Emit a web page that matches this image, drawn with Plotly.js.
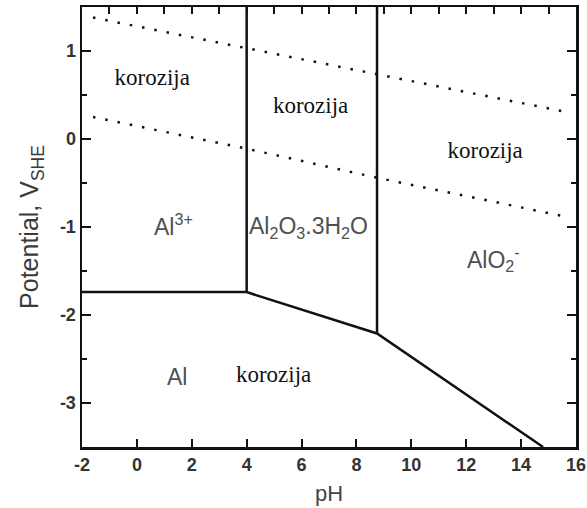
<!DOCTYPE html>
<html>
<head>
<meta charset="utf-8">
<script src="https://cdn.plot.ly/plotly-3.0.1.min.js"></script>
<style>
  html, body { margin: 0; padding: 0; background: #fff; }
  #chart { width: 587px; height: 508px; }
</style>
</head>
<body>
<div id="chart"></div>
<script>
'use strict';

// phase boundaries (solid)
const lowerBoundaryPH = [-2, 4, 8.75, 14.8];
const lowerBoundaryE = [-1.74, -1.74, -2.21, -3.5];
const al3OxidePH = [4, 4];
const al3OxideE = [-1.74, 1.5];
const oxideAlo2PH = [8.75, 8.75];
const oxideAlo2E = [-2.21, 1.5];

// water stability lines (dotted)
const oxygenPH = [-1.6, 4, 8.75, 15.6];
const oxygenE = [1.38, 1.03, 0.74, 0.31];
const hydrogenPH = [-1.6, 4, 8.75, 15.6];
const hydrogenE = [0.25, -0.11, -0.44, -0.88];

// tick labels (plain hyphen, like the original)
const phTicks = [-2, 0, 2, 4, 6, 8, 10, 12, 14, 16];
const phTickText = ['-2', '0', '2', '4', '6', '8', '10', '12', '14', '16'];
const eTicks = [-3, -2, -1, 0, 1];
const eTickText = ['-3', '-2', '-1', '0', '1'];

// region labels
const speciesText = ['Al<sup>3+</sup>', 'Al<sub>2</sub>O<sub>3</sub>.3H<sub>2</sub>O', 'AlO<sub>2</sub><sup>-</sup>', 'Al'];
const speciesX = [1.35, 6.25, 13.0, 1.47];
const speciesY = [-0.98, -1.0, -1.36, -2.71];

const corrosionText = ['korozija', 'korozija', 'korozija', 'korozija'];
const corrosionX = [0.56, 6.33, 12.69, 4.98];
const corrosionY = [0.68, 0.36, -0.15, -2.70];

const solid = {color: '#111', width: 2.5};
const dotted = {color: '#111', width: 2.5, dash: '2.5px,10px'};

function line(x, y, style) {
  return {x, y, type: 'scatter', mode: 'lines', line: style, hoverinfo: 'skip', showlegend: false};
}

const sans = 'Liberation Sans';
const serif = 'Liberation Serif';

const data = [
  line(lowerBoundaryPH, lowerBoundaryE, solid),
  line(al3OxidePH, al3OxideE, solid),
  line(oxideAlo2PH, oxideAlo2E, solid),
  line(oxygenPH, oxygenE, dotted),
  line(hydrogenPH, hydrogenE, dotted),
  {
    x: corrosionX, y: corrosionY, text: corrosionText,
    type: 'scatter', mode: 'text', textposition: 'middle center',
    textfont: {family: serif, size: 23, color: '#111', weight: 'normal'},
    hoverinfo: 'skip', showlegend: false
  },
  // invisible trace so the top axis gets drawn
  {x: [-2], y: [-3.5], xaxis: 'x2', type: 'scatter', mode: 'markers',
    marker: {opacity: 0}, hoverinfo: 'skip', showlegend: false}
];

const annotations = speciesText.map((t, i) => ({
  x: speciesX[i], y: speciesY[i], xref: 'x', yref: 'y', text: t, showarrow: false,
  font: {family: sans, size: 23, color: '#505050'}
}));

const tickFont = {family: sans, size: 18, color: '#333', weight: 'bold'};

const layout = {
  width: 587,
  height: 508,
  margin: {l: 82, r: 11, t: 7, b: 61},
  paper_bgcolor: '#fff',
  plot_bgcolor: '#fff',
  showlegend: false,
  xaxis: {
    range: [-2, 16],
    tickmode: 'array',
    tickvals: phTicks,
    ticktext: phTickText,
    ticks: 'inside',
    ticklen: 8,
    tickwidth: 2,
    tickcolor: '#111',
    showline: true,
    linewidth: 2.5,
    linecolor: '#111',
    mirror: true,
    showgrid: false,
    zeroline: false,
    tickfont: tickFont,
    title: {text: 'pH', standoff: 12, font: {family: sans, size: 22, color: '#444'}}
  },
  xaxis2: {
    overlaying: 'x',
    side: 'top',
    range: [-2, 16],
    dtick: 1,
    tick0: -2,
    ticks: 'inside',
    ticklen: 7,
    tickwidth: 2,
    tickcolor: '#111',
    showticklabels: false,
    showgrid: false,
    zeroline: false
  },
  yaxis: {
    range: [-3.5, 1.5],
    tickmode: 'array',
    tickvals: eTicks,
    ticktext: eTickText,
    ticks: 'inside',
    ticklen: 9,
    tickwidth: 2,
    tickcolor: '#111',
    minor: {dtick: 0.5, ticks: 'inside', ticklen: 5, tickwidth: 2, tickcolor: '#111'},
    showline: true,
    linewidth: 2.5,
    linecolor: '#111',
    mirror: 'ticks',
    showgrid: false,
    zeroline: false,
    tickfont: tickFont,
    title: {text: 'Potential, V<sub>SHE</sub>', standoff: 14, font: {family: sans, size: 25, color: '#3a3a3a'}}
  },
  annotations
};

Plotly.newPlot('chart', data, layout, {staticPlot: true, displayModeBar: false});
</script>
</body>
</html>
